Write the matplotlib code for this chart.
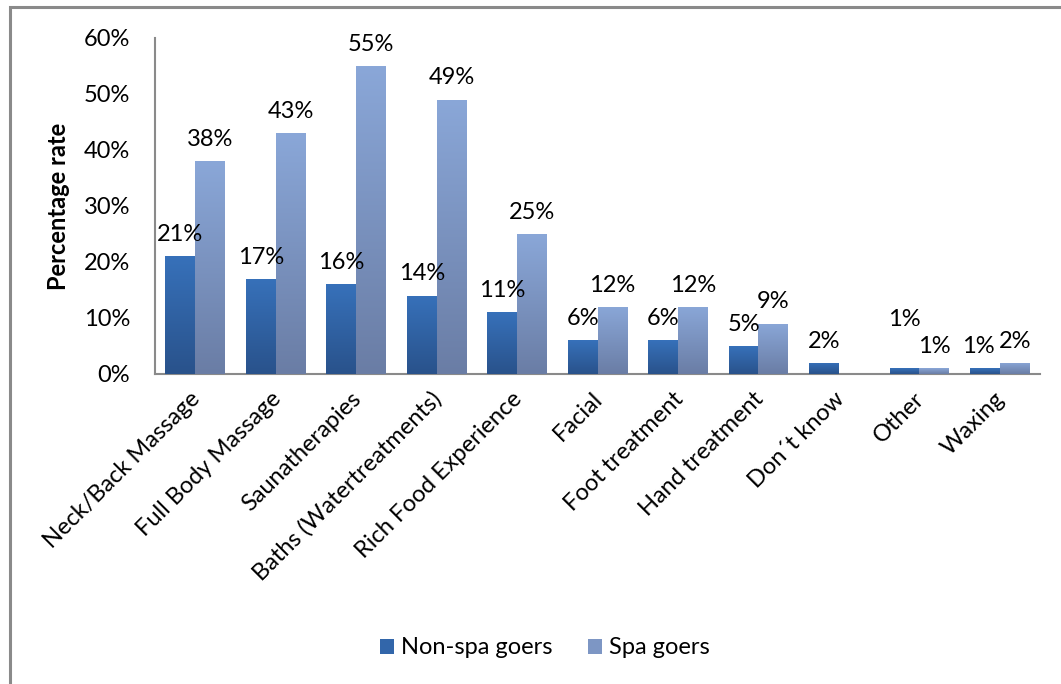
import matplotlib
matplotlib.use("Agg")
import matplotlib.pyplot as plt
import matplotlib.transforms as mtransforms
import numpy as np
from matplotlib.patches import Rectangle
from matplotlib.colors import LinearSegmentedColormap

plt.rcParams['font.family'] = ['Lato', 'DejaVu Sans']

categories = ["Neck/Back Massage", "Full Body Massage", "Saunatherapies",
              "Baths (Watertreatments)", "Rich Food Experience", "Facial",
              "Foot treatment", "Hand treatment", "Don´t know", "Other", "Waxing"]
non_spa = [21, 17, 16, 14, 11, 6, 6, 5, 2, 1, 1]
spa = [38, 43, 55, 49, 25, 12, 12, 9, 0, 1, 2]
series_names = ["Non-spa goers", "Spa goers"]
yticks = [0, 10, 20, 30, 40, 50, 60]

W, H = 1061, 684
fig = plt.figure(figsize=(W / 100, H / 100), dpi=100)
fig.patch.set_facecolor("white")

# outer chart frame
fig.patches.append(Rectangle((10 / W, -0.2), 1.3, 1.2 - 7 / H, transform=fig.transFigure,
                             fill=False, edgecolor="#8a8a8a", linewidth=2.2, zorder=0))

ax = fig.add_axes([155 / W, 1 - 374 / H, (1040 - 155) / W, (374 - 38) / H])

x = np.arange(len(categories))
bw = 0.37
grad_dark = LinearSegmentedColormap.from_list("dark", ["#29528b", "#3771ba"])
grad_light = LinearSegmentedColormap.from_list("light", ["#6a7da5", "#8aa7d8"])
grad = np.linspace(0, 1, 256).reshape(-1, 1)

bars1 = ax.bar(x - bw / 2, non_spa, bw, color="#3266aa", zorder=2)
bars2 = ax.bar(x + bw / 2, spa, bw, color="#7d96c4", zorder=2)

for bars, cmap in ((bars1, grad_dark), (bars2, grad_light)):
    for b in bars:
        h = b.get_height()
        if h <= 0:
            b.set_visible(False)
            continue
        x0 = b.get_x()
        im = ax.imshow(grad, cmap=cmap, origin="lower", aspect="auto",
                       extent=(x0, x0 + b.get_width(), 0, h), zorder=3)
        im.set_clip_path(b)

# value labels above bars (a couple nudged to keep them apart)
fs = 17
dx1 = [0] * len(categories)
dy1 = [0] * len(categories)
dy1[categories.index("Other")] = 20
dx1[categories.index("Waxing")] = -5
for i, b in enumerate(bars1):
    ax.annotate(f"{non_spa[i]}%", (b.get_x() + b.get_width() / 2, non_spa[i]),
                xytext=(dx1[i], 8 + dy1[i]), textcoords="offset points",
                ha="center", va="bottom", fontsize=fs, zorder=5)
for i, b in enumerate(bars2):
    if spa[i] <= 0:
        continue
    ax.annotate(f"{spa[i]}%", (b.get_x() + b.get_width() / 2, spa[i]),
                xytext=(0, 8), textcoords="offset points",
                ha="center", va="bottom", fontsize=fs, zorder=5)

ax.set_xlim(-0.5, len(categories) - 0.5)
ax.set_ylim(0, 60)
ax.set_yticks(yticks)
ax.set_yticklabels([f"{v}%" for v in yticks], fontsize=fs)
ax.tick_params(axis="y", length=0, pad=18)
ax.tick_params(axis="x", length=0, pad=2)
ax.set_xticks(x)
ax.set_xticklabels(categories, rotation=45, ha="right", va="top",
                   rotation_mode="anchor", fontsize=fs)
for lab in ax.get_xticklabels():
    lab.set_transform(lab.get_transform() +
                      mtransforms.ScaledTranslation(-4 / 72, -8 / 72, fig.dpi_scale_trans))

ax.set_ylabel("Percentage rate", fontsize=fs, fontweight="bold")
ax.yaxis.set_label_coords(-85 / (1040 - 155), 0.5)

for side in ("top", "right"):
    ax.spines[side].set_visible(False)
for side in ("left", "bottom"):
    ax.spines[side].set_color("#8a8a8a")
    ax.spines[side].set_linewidth(1.5)

handles = [Rectangle((0, 0), 1, 1, facecolor="#3266aa"),
           Rectangle((0, 0), 1, 1, facecolor="#7d96c4")]
fig.legend(handles, series_names, loc="center", bbox_to_anchor=(545 / W, 1 - 648 / H),
           ncol=2, frameon=False, fontsize=fs, handlelength=0.6, handleheight=0.6,
           handletextpad=0.3, columnspacing=1.5)

fig.savefig("out.png", dpi=100)
